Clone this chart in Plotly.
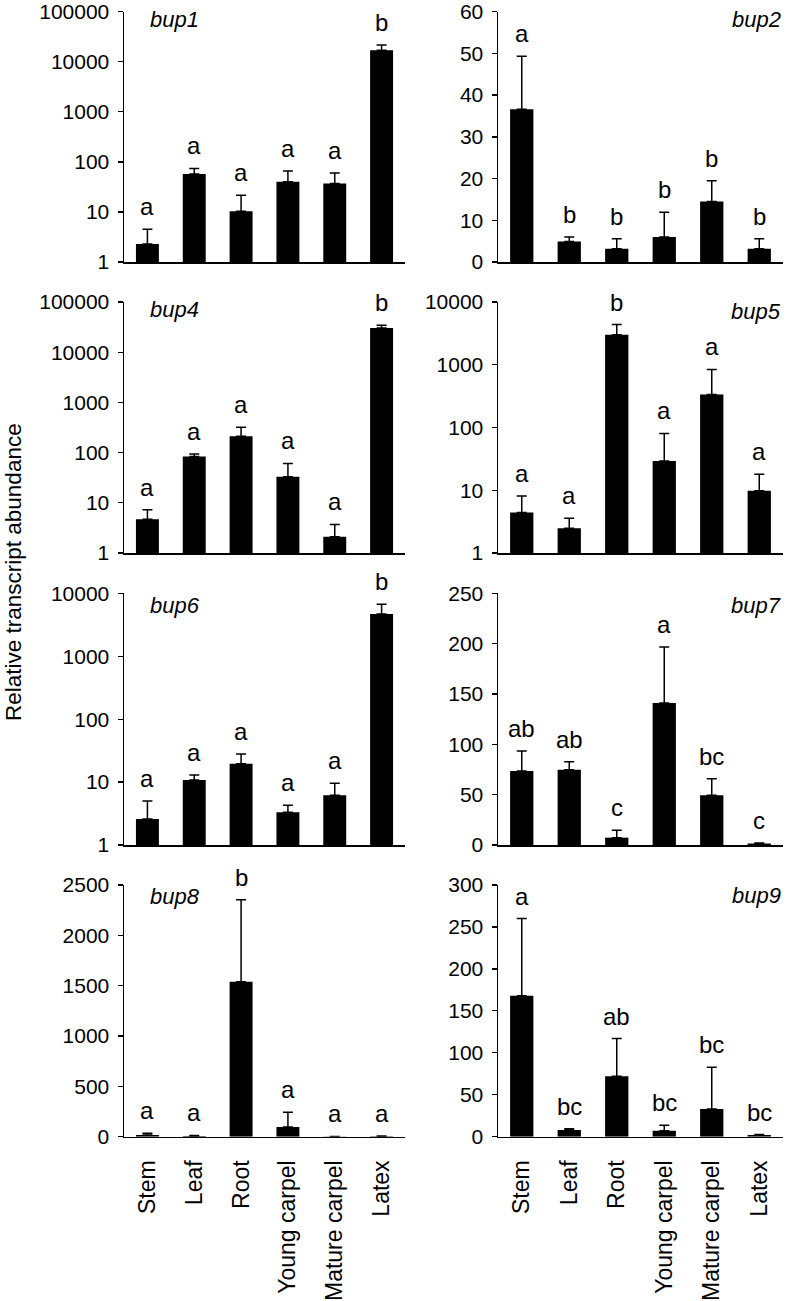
import math
import plotly.graph_objects as go

categories = ["Stem", "Leaf", "Root", "Young carpel", "Mature carpel", "Latex"]

bup1_mean = [2.3, 57, 10.3, 40, 37, 17000]
bup1_err = [2.2, 17, 11.2, 26, 23, 4500]
bup1_letters = ["a", "a", "a", "a", "a", "b"]

bup2_mean = [36.6, 4.9, 3.2, 6.0, 14.5, 3.2]
bup2_err = [12.7, 1.1, 2.4, 5.9, 5.0, 2.4]
bup2_letters = ["a", "b", "b", "b", "b", "b"]

bup4_mean = [4.7, 84, 211, 33, 2.1, 30300]
bup4_err = [2.6, 10, 108, 28, 1.6, 4100]
bup4_letters = ["a", "a", "a", "a", "a", "b"]

bup5_mean = [4.4, 2.47, 3000, 29.3, 337, 9.8]
bup5_err = [3.7, 1.1, 1370, 51, 504, 8.2]
bup5_letters = ["a", "a", "b", "a", "a", "a"]

bup6_mean = [2.6, 10.8, 19.6, 3.3, 6.2, 4710]
bup6_err = [2.4, 2.2, 8.4, 1.0, 3.4, 2000]
bup6_letters = ["a", "a", "a", "a", "a", "b"]

bup7_mean = [73.5, 74.8, 7.3, 141, 49.4, 1.5]
bup7_err = [19.9, 7.9, 7.3, 55.7, 16.5, 0.5]
bup7_letters = ["ab", "ab", "c", "a", "bc", "c"]

bup8_mean = [18, 8, 1540, 96, 2, 5]
bup8_err = [17, 4, 814, 146, 1, 3]
bup8_letters = ["a", "a", "b", "a", "a", "a"]

bup9_mean = [168, 8, 72, 7.2, 33, 2]
bup9_err = [92, 1.5, 45, 6.4, 49.7, 0.5]
bup9_letters = ["a", "bc", "ab", "bc", "bc", "bc"]

log5_ticks = [1, 10, 100, 1000, 10000, 100000]
log5_text = ["1", "10", "100", "1000", "10000", "100000"]
log4_ticks = [1, 10, 100, 1000, 10000]
log4_text = ["1", "10", "100", "1000", "10000"]

y_title = "Relative transcript abundance"

FONT = "Liberation Sans, Arial, sans-serif"
W, H = 789, 1301

# panel layout (pixel geometry)
col_x = {0: (124, 405), 1: (498, 783)}
row_y = [(11.7, 262), (302, 553), (593.3, 845), (885, 1136.7)]

panels = [
    dict(name="bup1", mean=bup1_mean, err=bup1_err, let=bup1_letters, log=True, rng=[0, 5], tv=log5_ticks, tt=log5_text, row=0, col=0),
    dict(name="bup2", mean=bup2_mean, err=bup2_err, let=bup2_letters, log=False, rng=[0, 60], dtick=10, row=0, col=1),
    dict(name="bup4", mean=bup4_mean, err=bup4_err, let=bup4_letters, log=True, rng=[0, 5], tv=log5_ticks, tt=log5_text, row=1, col=0),
    dict(name="bup5", mean=bup5_mean, err=bup5_err, let=bup5_letters, log=True, rng=[0, 4], tv=log4_ticks, tt=log4_text, row=1, col=1),
    dict(name="bup6", mean=bup6_mean, err=bup6_err, let=bup6_letters, log=True, rng=[0, 4], tv=log4_ticks, tt=log4_text, row=2, col=0),
    dict(name="bup7", mean=bup7_mean, err=bup7_err, let=bup7_letters, log=False, rng=[0, 250], dtick=50, row=2, col=1),
    dict(name="bup8", mean=bup8_mean, err=bup8_err, let=bup8_letters, log=False, rng=[0, 2500], dtick=500, row=3, col=0),
    dict(name="bup9", mean=bup9_mean, err=bup9_err, let=bup9_letters, log=False, rng=[0, 300], dtick=50, row=3, col=1),
]

name_offsets = {"bup1": 8.3, "bup2": 8.3, "bup4": 7.5, "bup5": 9.4, "bup6": 11.7, "bup7": 11.7, "bup8": 11.7, "bup9": 10}

fig = go.Figure()
layout = {}
annotations = []
for i, p in enumerate(panels, start=1):
    xa = "x" if i == 1 else f"x{i}"
    ya = "y" if i == 1 else f"y{i}"
    x0, x1 = col_x[p["col"]]
    y0, y1 = row_y[p["row"]]
    fig.add_trace(go.Bar(
        x=categories, y=p["mean"], xaxis=xa, yaxis=ya,
        marker=dict(color="black", line=dict(width=0)), width=0.49,
        error_y=dict(type="data", array=p["err"], arrayminus=[0] * len(p["err"]), symmetric=False,
                     color="black", thickness=1.5, width=5),
        showlegend=False, hoverinfo="skip",
    ))
    bottom = p["row"] == 3
    layout[f"xaxis{i}"] = dict(
        domain=[x0 / W, x1 / W], anchor=ya, type="category", categoryorder="array",
        categoryarray=categories, range=[-0.5, 5.5], showline=True, linecolor="black",
        linewidth=1.5, ticks="", showgrid=False, zeroline=False, showticklabels=bottom,
        tickangle=-90, tickfont=dict(family=FONT, size=23, color="black"),
        ticklabelstandoff=13, automargin=False,
    )
    yax = dict(
        domain=[1 - y1 / H, 1 - y0 / H], anchor=xa, showline=True, linecolor="black",
        linewidth=1.5, ticks="outside", ticklen=5, tickwidth=1.3, tickcolor="black",
        showgrid=False, zeroline=False, tickfont=dict(family=FONT, size=21, color="black"),
        ticklabelstandoff=4, automargin=False,
    )
    if p["log"]:
        yax.update(type="log", range=p["rng"], tickvals=p["tv"], ticktext=p["tt"])
    else:
        yax.update(type="linear", range=p["rng"], dtick=p["dtick"], tick0=0)
    layout[f"yaxis{i}"] = yax

    for k, (m, e, L) in enumerate(zip(p["mean"], p["err"], p["let"])):
        top = m + e
        yv = math.log10(top) if p["log"] else top
        annotations.append(dict(
            x=categories[k], y=yv, xref=xa, yref=ya, text=L, showarrow=False,
            xanchor="center", yanchor="bottom", yshift=7,
            font=dict(family=FONT, size=24, color="black"),
        ))
    # gene name
    yc = y0 + name_offsets[p["name"]]
    if p["col"] == 0:
        annotations.append(dict(x=148 / W, y=1 - yc / H, xref="paper", yref="paper",
                                text=f"<i>{p['name']}</i>", showarrow=False, xanchor="left",
                                yanchor="middle", font=dict(family=FONT, size=22, color="black")))
    else:
        annotations.append(dict(x=783 / W, y=1 - yc / H, xref="paper", yref="paper",
                                text=f"<i>{p['name']}</i>", showarrow=False, xanchor="right",
                                yanchor="middle", font=dict(family=FONT, size=22, color="black")))

annotations.append(dict(x=13.5 / W, y=1 - 572.5 / H, xref="paper", yref="paper", text=y_title,
                        textangle=-90, showarrow=False, xanchor="center", yanchor="middle",
                        font=dict(family=FONT, size=22.5, color="black")))

fig.update_layout(
    template="none",
    width=W, height=H, margin=dict(l=0, r=0, t=0, b=0, pad=0, autoexpand=False),
    plot_bgcolor="white", paper_bgcolor="white", showlegend=False,
    annotations=annotations, bargap=0.5, **layout,
)

fig.write_html(
    "out.html",
    config={"displayModeBar": False, "staticPlot": True},
    post_script="document.body.style.margin='0';document.body.style.padding='0';document.body.style.overflow='hidden';",
)
